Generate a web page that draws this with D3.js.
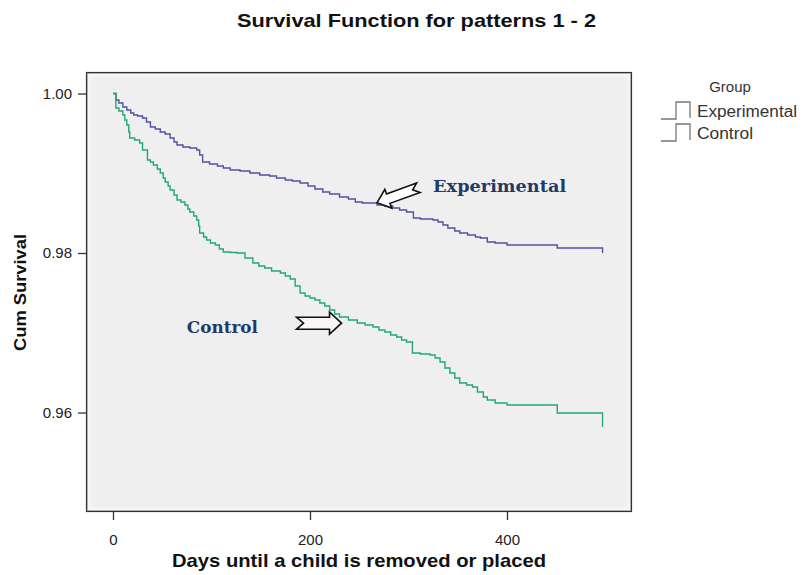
<!DOCTYPE html>
<html>
<head>
<meta charset="utf-8">
<script src="https://cdn.jsdelivr.net/npm/d3@7"></script>
<style>
  html, body { margin: 0; padding: 0; background: #ffffff; }
  svg { display: block; }
</style>
</head>
<body>
<svg id="chart" width="804" height="575"></svg>
<script>
// Kaplan-Meier step points: day of each drop and the cumulative survival after it.
// The last entry of each group is the drop at the end of follow-up.
const experimentalDays = [0, 3, 6, 10, 14, 18, 21, 25, 30, 34, 38, 43, 48, 53, 58, 62, 65, 71, 78, 85, 88, 91, 98, 106, 112, 119, 129, 139, 149, 159, 166, 175, 182, 190, 198, 205, 213, 220, 230, 239, 246, 253, 268, 276, 284, 291, 298, 305, 312, 325, 330, 335, 340, 347, 352, 360, 368, 373, 380, 388, 400, 451, 497];
const experimentalSurv = [1.0000, 0.99918, 0.99881, 0.99831, 0.99793, 0.99755, 0.99730, 0.99718, 0.99693, 0.99643, 0.99580, 0.99555, 0.99517, 0.99492, 0.99442, 0.99392, 0.99354, 0.99329, 0.99317, 0.99292, 0.99229, 0.99141, 0.99116, 0.99091, 0.99066, 0.99041, 0.99028, 0.99003, 0.98978, 0.98966, 0.98940, 0.98915, 0.98903, 0.98878, 0.98840, 0.98803, 0.98765, 0.98740, 0.98702, 0.98677, 0.98639, 0.98627, 0.98602, 0.98589, 0.98564, 0.98539, 0.98514, 0.98439, 0.98427, 0.98414, 0.98389, 0.98351, 0.98313, 0.98276, 0.98251, 0.98226, 0.98201, 0.98188, 0.98138, 0.98125, 0.98100, 0.98063, 0.98000];

const controlDays = [0, 3, 6, 10, 12, 14, 16, 17, 22, 27, 30, 35, 38, 41, 45, 48, 51, 53, 56, 58, 62, 65, 69, 73, 76, 78, 82, 85, 87, 88, 92, 95, 99, 104, 108, 112, 119, 126, 134, 142, 148, 154, 161, 170, 175, 180, 185, 190, 195, 200, 205, 210, 215, 220, 225, 230, 239, 248, 256, 264, 270, 276, 282, 288, 293, 298, 304, 312, 322, 327, 332, 337, 342, 347, 352, 359, 365, 370, 376, 380, 388, 400, 451, 497];
const controlSurv = [1.0000, 0.99818, 0.99781, 0.99730, 0.99668, 0.99605, 0.99517, 0.99442, 0.99417, 0.99379, 0.99292, 0.99166, 0.99141, 0.99103, 0.99053, 0.99003, 0.98940, 0.98890, 0.98840, 0.98790, 0.98727, 0.98664, 0.98639, 0.98602, 0.98552, 0.98514, 0.98464, 0.98414, 0.98339, 0.98251, 0.98201, 0.98163, 0.98125, 0.98100, 0.98050, 0.98012, 0.98006, 0.98000, 0.97937, 0.97875, 0.97837, 0.97812, 0.97774, 0.97749, 0.97712, 0.97674, 0.97586, 0.97498, 0.97461, 0.97436, 0.97411, 0.97373, 0.97335, 0.97285, 0.97235, 0.97197, 0.97160, 0.97122, 0.97097, 0.97072, 0.97034, 0.97009, 0.96972, 0.96947, 0.96909, 0.96884, 0.96746, 0.96734, 0.96721, 0.96684, 0.96633, 0.96558, 0.96495, 0.96433, 0.96370, 0.96345, 0.96320, 0.96257, 0.96194, 0.96157, 0.96119, 0.96094, 0.95994, 0.95818];

const groups = ["Experimental", "Control"];
const xTicks = [0, 200, 400];
const yTicks = [1.00, 0.98, 0.96];

// Annotation anchors in data units: arrow tip and label start
const annExpArrowTip = [268, 0.9863];
const annExpLabel = [325, 0.98765];
const annCtlArrowTip = [232, 0.9712];
const annCtlLabel = [75, 0.9700];

const colors = { Experimental: "#5252a4", Control: "#22a878" };

const svg = d3.select("#chart");
const margin = { left: 86, top: 72, right: 172, bottom: 63 };
const W = 804 - margin.left - margin.right;   // 546
const H = 575 - margin.top - margin.bottom;   // 440

const x = d3.scaleLinear().domain([-27.4, 526.9]).range([0, W]);
const y = d3.scaleLinear().domain([0.94752, 1.0027]).range([H, 0]);

const g = svg.append("g").attr("transform", `translate(${margin.left},${margin.top})`);

// plot panel
g.append("rect").attr("x", 0).attr("y", 0).attr("width", W).attr("height", H)
  .attr("fill", "#efefef");
g.append("rect").attr("x", 3).attr("y", 3).attr("width", W - 6).attr("height", H - 6)
  .attr("fill", "none").attr("stroke", "#f5f5f5").attr("stroke-width", 4);
g.append("rect").attr("x", 1.5).attr("y", 1.5).attr("width", W - 3).attr("height", H - 3)
  .attr("fill", "none").attr("stroke", "#bdbdbd").attr("stroke-width", 1);
g.append("rect").attr("x", 0.5).attr("y", 0.5).attr("width", W - 1).attr("height", H - 1)
  .attr("fill", "none").attr("stroke", "#333").attr("stroke-width", 1.2);

// axes
const yAxis = d3.axisLeft(y).tickValues(yTicks).tickFormat(d3.format(".2f")).tickSize(8).tickPadding(6);
const xAxis = d3.axisBottom(x).tickValues(xTicks).tickFormat(d3.format("d")).tickSize(8).tickPadding(14);

const gy = g.append("g").call(yAxis);
const gx = g.append("g").attr("transform", `translate(0,${H})`).call(xAxis);
[gy, gx].forEach(a => {
  a.attr("font-size", null).attr("font-family", null);
  a.select(".domain").remove();
  a.selectAll(".tick line").attr("stroke", "#333").attr("stroke-width", 1.3);
  a.selectAll(".tick text").attr("fill", "#222")
    .style("font-family", "Arial, 'Liberation Sans', sans-serif").style("font-size", "15px");
});

// survival curves
const line = d3.line().x(d => x(d[0])).y(d => y(d[1])).curve(d3.curveStepAfter);
const series = [
  { name: "Experimental", pts: d3.zip(experimentalDays, experimentalSurv) },
  { name: "Control", pts: d3.zip(controlDays, controlSurv) }
];
series.forEach(s => {
  // hold the last level to the end of follow-up, then draw the final drop
  const pts = s.pts;
  const last = pts[pts.length - 1];
  const prev = pts[pts.length - 2];
  const path = line(pts.slice(0, -1).concat([[last[0], prev[1]]])) + `L${x(last[0])},${y(last[1])}`;
  g.append("path").attr("d", path).attr("fill", "none")
    .attr("stroke", colors[s.name]).attr("stroke-width", 1.4);
});

// block arrow pointing along +x with its tip at the origin
function blockArrow(L, headLen, headHalf, shaftHalf, notch) {
  return `M0,0 L${-headLen},${-headHalf} L${-headLen},${-shaftHalf} L${-L},${-shaftHalf} ` +
         `L${-L + notch},0 L${-L},${shaftHalf} L${-headLen},${shaftHalf} L${-headLen},${headHalf} Z`;
}
g.append("path")
  .attr("d", blockArrow(44, 12, 10, 5, 6))
  .attr("transform", `translate(${x(annExpArrowTip[0])},${y(annExpArrowTip[1])}) rotate(160)`)
  .attr("fill", "#ffffff").attr("stroke", "#111").attr("stroke-width", 1.6).attr("stroke-linejoin", "miter");
g.append("path")
  .attr("d", blockArrow(45, 12, 11, 6, 7))
  .attr("transform", `translate(${x(annCtlArrowTip[0])},${y(annCtlArrowTip[1])})`)
  .attr("fill", "#fdf4f6").attr("stroke", "#111").attr("stroke-width", 1.6).attr("stroke-linejoin", "miter");

const annFont = "'DejaVu Serif', 'Liberation Serif', serif";
g.append("text").attr("x", x(annExpLabel[0])).attr("y", y(annExpLabel[1]))
  .attr("fill", "#1f3a68").style("font-family", annFont).style("font-weight", "bold").style("font-size", "17px")
  .attr("textLength", 133).attr("lengthAdjust", "spacingAndGlyphs")
  .text("Experimental");
g.append("text").attr("x", x(annCtlLabel[0])).attr("y", y(annCtlLabel[1]))
  .attr("fill", "#1f3a68").style("font-family", annFont).style("font-weight", "bold").style("font-size", "17px")
  .attr("textLength", 71).attr("lengthAdjust", "spacingAndGlyphs")
  .text("Control");

const sans = "Arial, 'Liberation Sans', sans-serif";

// title
svg.append("text").attr("x", 237).attr("y", 27)
  .attr("fill", "#111").style("font-family", sans).style("font-weight", "bold").style("font-size", "19px")
  .attr("textLength", 359).attr("lengthAdjust", "spacingAndGlyphs")
  .text("Survival Function for patterns 1 - 2");

// axis titles
svg.append("text").attr("x", 172).attr("y", 567)
  .attr("fill", "#111").style("font-family", sans).style("font-weight", "bold").style("font-size", "19px")
  .attr("textLength", 374).attr("lengthAdjust", "spacingAndGlyphs")
  .text("Days until a child is removed or placed");
svg.append("text").attr("transform", "translate(26,351) rotate(-90)")
  .attr("fill", "#111").style("font-family", sans).style("font-weight", "bold").style("font-size", "17px")
  .attr("textLength", 117).attr("lengthAdjust", "spacingAndGlyphs")
  .text("Cum Survival");

// legend
const lg = svg.append("g");
lg.append("text").attr("x", 730).attr("y", 92).attr("text-anchor", "middle")
  .attr("fill", "#333").style("font-family", sans).style("font-size", "15px").text("Group");
groups.forEach((name, i) => {
  const base = 119 + i * 22;
  const top = base - 17;
  lg.append("path")
    .attr("d", `M661,${base} H676 V${top} H690 V${base - 1}`)
    .attr("fill", "none").attr("stroke", "#777").attr("stroke-width", 1.3);
  lg.append("text").attr("x", 697).attr("y", base - 2)
    .attr("fill", "#333").style("font-family", sans).style("font-size", "16px")
    .attr("textLength", name === "Experimental" ? 100 : 56).attr("lengthAdjust", "spacingAndGlyphs")
    .text(name);
});
</script>
</body>
</html>
